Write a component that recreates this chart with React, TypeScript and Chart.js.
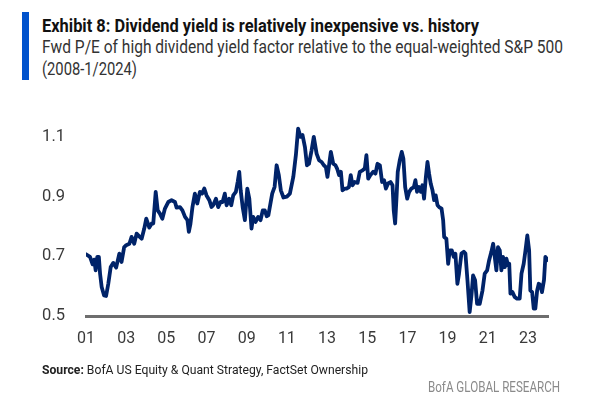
import React, { useEffect, useLayoutEffect, useRef } from "react";
import { Chart, registerables } from "chart.js";

Chart.register(...registerables);

// Observation dates (decimal years) and Fwd P/E relative values
const years: number[] = [
  2001.00, 2001.20, 2001.33, 2001.41, 2001.48, 2001.56, 2001.64, 2001.70, 2001.78, 2001.90,
  2002.00, 2002.11, 2002.23, 2002.36, 2002.50, 2002.66, 2002.77, 2002.90,
  2003.00, 2003.16, 2003.27, 2003.40, 2003.52, 2003.65, 2003.77, 2003.90,
  2004.00, 2004.15, 2004.27, 2004.35, 2004.47, 2004.57, 2004.68, 2004.80, 2004.93,
  2005.10, 2005.26, 2005.43, 2005.51, 2005.68, 2005.80, 2005.93,
  2006.05, 2006.12, 2006.20, 2006.30, 2006.42, 2006.54, 2006.67, 2006.78, 2006.89,
  2007.00, 2007.14, 2007.25, 2007.33, 2007.47, 2007.58, 2007.70, 2007.80, 2007.91,
  2008.00, 2008.13, 2008.23, 2008.33, 2008.46, 2008.55, 2008.63, 2008.70, 2008.80, 2008.91,
  2009.03, 2009.13, 2009.24, 2009.32, 2009.44, 2009.57, 2009.69, 2009.80, 2009.90,
  2010.00, 2010.08, 2010.27, 2010.39, 2010.49, 2010.60, 2010.70, 2010.83,
  2011.00, 2011.15, 2011.32, 2011.45, 2011.56, 2011.68, 2011.78, 2011.90,
  2012.00, 2012.10, 2012.23, 2012.34, 2012.48, 2012.60, 2012.73, 2012.84, 2012.94,
  2013.02, 2013.11, 2013.19, 2013.31, 2013.42, 2013.50, 2013.60, 2013.69, 2013.77, 2013.89, 2013.97,
  2014.09, 2014.18, 2014.27, 2014.38, 2014.52, 2014.63, 2014.77, 2014.88, 2014.96,
  2015.05, 2015.16, 2015.30, 2015.41, 2015.51, 2015.63, 2015.74, 2015.84, 2015.93,
  2016.04, 2016.16, 2016.26, 2016.32, 2016.39, 2016.46, 2016.52, 2016.62, 2016.72, 2016.80, 2016.89, 2016.99,
  2017.09, 2017.20, 2017.32, 2017.40, 2017.48, 2017.58, 2017.67, 2017.75, 2017.83, 2017.92,
  2018.00, 2018.08, 2018.16, 2018.25, 2018.33, 2018.41, 2018.50, 2018.58, 2018.70, 2018.78, 2018.83, 2018.94,
  2019.03, 2019.11, 2019.21, 2019.31, 2019.39, 2019.49, 2019.57, 2019.69, 2019.81, 2019.89, 2019.99,
  2020.10, 2020.19, 2020.27, 2020.37, 2020.47, 2020.60, 2020.74, 2020.85, 2020.97,
  2021.07, 2021.18, 2021.27, 2021.35, 2021.43, 2021.51, 2021.60, 2021.68, 2021.76, 2021.85, 2021.93,
  2022.01, 2022.07, 2022.13, 2022.23, 2022.34, 2022.46, 2022.59, 2022.68, 2022.79, 2022.88, 2022.97,
  2023.06, 2023.12, 2023.21, 2023.29, 2023.37, 2023.46, 2023.54, 2023.62, 2023.70, 2023.80, 2023.87,
  2024.00,
];

const ratio: number[] = [
  0.707, 0.698, 0.673, 0.689, 0.653, 0.698, 0.698, 0.642, 0.597, 0.569,
  0.567, 0.608, 0.664, 0.678, 0.662, 0.709, 0.681, 0.731,
  0.737, 0.742, 0.765, 0.742, 0.776, 0.767, 0.759, 0.793,
  0.826, 0.796, 0.810, 0.810, 0.916, 0.854, 0.843, 0.826, 0.860,
  0.882, 0.888, 0.882, 0.863, 0.865, 0.854, 0.832,
  0.821, 0.782, 0.809, 0.865, 0.910, 0.877, 0.916, 0.910, 0.927,
  0.904, 0.888, 0.865, 0.871, 0.893, 0.865, 0.882, 0.882, 0.910,
  0.871, 0.893, 0.871, 0.904, 0.916, 0.949, 0.983, 0.921, 0.865, 0.821,
  0.927, 0.893, 0.793, 0.832, 0.815, 0.832, 0.821, 0.854, 0.854,
  0.834, 0.838, 0.910, 0.933, 1.005, 0.972, 0.921, 0.897,
  0.900, 0.910, 0.966, 1.040, 1.128, 1.100, 1.106, 1.066,
  1.005, 1.010, 1.055, 1.100, 1.044, 1.022, 1.016, 1.005, 0.999,
  0.966, 1.010, 1.050, 1.010, 1.005, 0.994, 0.972, 0.983, 0.921, 0.927, 0.927,
  0.932, 0.972, 0.938, 0.949, 0.946, 0.983, 0.988, 0.994, 1.039,
  0.960, 0.972, 0.983, 0.977, 1.010, 1.005, 0.949, 0.955, 0.927,
  0.944, 0.949, 0.938, 0.854, 0.810, 0.899, 0.983, 1.022, 1.050, 1.027, 0.932, 0.893,
  0.916, 0.927, 0.932, 0.955, 0.916, 0.932, 0.916, 0.938, 0.893, 0.966,
  1.016, 0.977, 0.944, 0.921, 0.888, 0.904, 0.871, 0.865, 0.860, 0.821, 0.765, 0.759,
  0.675, 0.720, 0.720, 0.698, 0.709, 0.608, 0.642, 0.709, 0.715, 0.709, 0.620,
  0.513, 0.569, 0.636, 0.620, 0.541, 0.541, 0.586, 0.642, 0.653,
  0.687, 0.715, 0.742, 0.698, 0.653, 0.731, 0.720, 0.653, 0.698, 0.664, 0.692,
  0.670, 0.675, 0.575, 0.580, 0.564, 0.558, 0.558, 0.642, 0.675, 0.720, 0.770,
  0.720, 0.586, 0.580, 0.525, 0.525, 0.586, 0.608, 0.603, 0.580, 0.620, 0.698,
  0.687,
];

const xTickYears: number[] = [2001, 2003, 2005, 2007, 2009, 2011, 2013, 2015, 2017, 2019, 2021, 2023];
const yTickValues: number[] = [0.5, 0.7, 0.9, 1.1];

const TITLE = "Exhibit 8: Dividend yield is relatively inexpensive vs. history";
const SUBTITLE_1 = "Fwd P/E of high dividend yield factor relative to the equal-weighted S&P 500";
const SUBTITLE_2 = "(2008-1/2024)";
const SOURCE_LABEL = "Source:";
const SOURCE_TEXT = " BofA US Equity & Quant Strategy, FactSet Ownership";
const BRAND = "BofA GLOBAL RESEARCH";

const FONT = 'Roboto, "Noto Sans", sans-serif';

function FitText(props: {
  left: number;
  top: number;
  width: number;
  size: number;
  lineHeight: number;
  color: string;
  weight?: number;
  anchorRight?: boolean;
  children: React.ReactNode;
}) {
  const ref = useRef<HTMLDivElement | null>(null);
  useLayoutEffect(() => {
    const el = ref.current;
    if (!el) return;
    el.style.transform = "none";
    const w = el.getBoundingClientRect().width;
    if (w > 0) el.style.transform = `scaleX(${props.width / w})`;
  });
  return (
    <div
      ref={ref}
      style={{
        position: "absolute",
        left: props.left,
        top: props.top,
        fontFamily: FONT,
        fontSize: props.size,
        fontWeight: props.weight ?? 400,
        color: props.color,
        whiteSpace: "nowrap",
        lineHeight: `${props.lineHeight}px`,
        transformOrigin: "left top",
        display: "inline-block",
      }}
    >
      {props.children}
    </div>
  );
}

export default function App() {
  const ref = useRef<HTMLCanvasElement | null>(null);

  useEffect(() => {
    if (!ref.current) return;
    const chart = new Chart(ref.current, {
      type: "line",
      data: {
        datasets: [
          {
            data: years.map((y, i) => ({ x: y, y: ratio[i] })),
            borderColor: "#002369",
            borderWidth: 3.8,
            pointRadius: 0,
            tension: 0,
            fill: false,
            borderJoinStyle: "round",
            borderCapStyle: "round",
          },
        ],
      },
      options: {
        animation: false,
        responsive: false,
        maintainAspectRatio: false,
        layout: { padding: { left: 0, right: 42, top: 122, bottom: 48 } },
        plugins: { legend: { display: false }, tooltip: { enabled: false } },
        scales: {
          x: {
            type: "linear",
            min: 2001,
            max: 2024,
            afterFit: (s: any) => { s.height = 40; },
            afterBuildTicks: (s: any) => { s.ticks = xTickYears.map((v) => ({ value: v })); },
            grid: { display: false, drawTicks: false },
            border: { display: true, color: "#6e6e6e", width: 3 },
            ticks: {
              padding: 13,
              color: "#3a3a3a",
              font: { family: FONT, size: 16 },
              maxRotation: 0,
              autoSkip: false,
              callback: (v: any) => String(Math.round(Number(v)) % 100).padStart(2, "0"),
            },
          },
          y: {
            min: 0.5,
            max: 1.15,
            afterFit: (s: any) => { s.width = 86; },
            afterBuildTicks: (s: any) => { s.ticks = yTickValues.map((v) => ({ value: v })); },
            grid: { display: false, drawTicks: false },
            border: { display: false },
            ticks: {
              padding: 21,
              color: "#3a3a3a",
              font: { family: FONT, size: 16.5 },
              callback: (v: any) => Number(v).toFixed(1),
            },
          },
        },
      },
    });
    return () => chart.destroy();
  }, []);

  return (
    <div style={{ position: "absolute", left: 0, top: 0, width: 590, height: 404, background: "#fff", overflow: "hidden" }}>
      <div style={{ position: "absolute", left: 22, top: 12, width: 7, height: 68, background: "#0052cc" }} />
      <FitText left={42} top={15} width={437} size={18} lineHeight={22} color="#111" weight={700}>
        {TITLE}
      </FitText>
      <FitText left={42} top={36} width={521} size={17.5} lineHeight={22} color="#333">
        {SUBTITLE_1}
      </FitText>
      <FitText left={42} top={58} width={95} size={17.5} lineHeight={22} color="#333">
        {SUBTITLE_2}
      </FitText>
      <canvas ref={ref} width={590} height={404} style={{ position: "absolute", left: 0, top: 0, width: 590, height: 404 }} />
      <FitText left={42} top={360} width={326} size={13.5} lineHeight={18} color="#222">
        <b>{SOURCE_LABEL}</b>
        {SOURCE_TEXT}
      </FitText>
      <FitText left={428} top={378} width={132} size={14} lineHeight={18} color="#8a8a8a">
        {BRAND}
      </FitText>
    </div>
  );
}
